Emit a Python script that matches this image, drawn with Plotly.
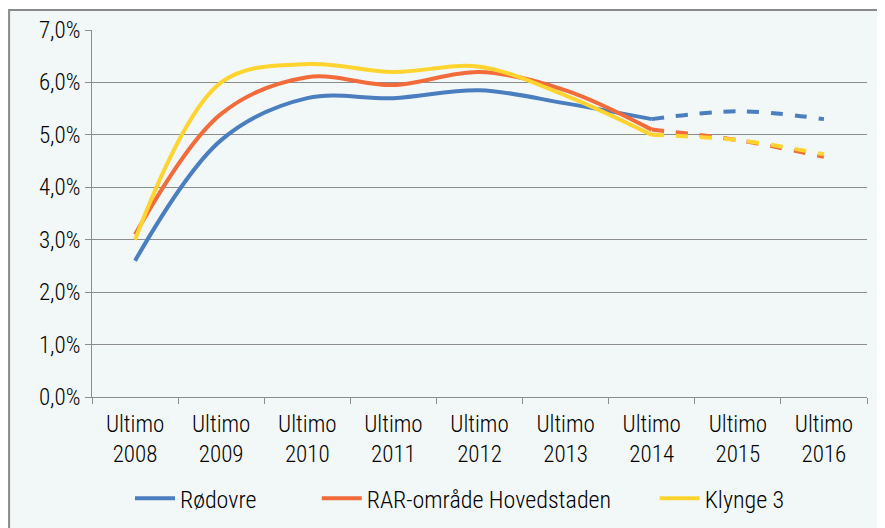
import plotly.graph_objects as go

# === Data ===
YEARS = ["2008", "2009", "2010", "2011", "2012", "2013", "2014", "2015", "2016"]
CATEGORIES = ["Ultimo<br>" + y for y in YEARS]
RODOVRE = [2.6, 4.9, 5.7, 5.7, 5.85, 5.6, 5.3, 5.45, 5.3]
RAR_HOVEDSTADEN = [3.1, 5.4, 6.1, 5.95, 6.2, 5.85, 5.1, 4.9, 4.58]
KLYNGE_3 = [3.0, 6.0, 6.35, 6.2, 6.3, 5.75, 5.0, 4.9, 4.63]
FORECAST_START = 6  # Ultimo 2014 onwards is dashed

SERIES = [
    ("Rødovre", RODOVRE, "#4A7EBF", "legend"),
    ("RAR-område Hovedstaden", RAR_HOVEDSTADEN, "#F26B3A", "legend2"),
    ("Klynge 3", KLYNGE_3, "#FFD42E", "legend3"),
]

FONT = "Roboto Condensed, Liberation Sans Narrow, sans-serif"
GRID = "#8c8c8c"

fig = go.Figure()

for name, values, color, leg in SERIES:
    fig.add_trace(go.Scatter(
        x=CATEGORIES[:FORECAST_START + 1],
        y=values[:FORECAST_START + 1],
        mode="lines",
        name=name,
        legend=leg,
        line=dict(color=color, width=4, shape="spline", smoothing=1.0),
    ))
    fig.add_trace(go.Scatter(
        x=CATEGORIES[FORECAST_START:],
        y=values[FORECAST_START:],
        mode="lines",
        name=name,
        showlegend=False,
        line=dict(color=color, width=4, dash="dash", shape="spline", smoothing=1.0),
    ))

# Chart frame
fig.add_shape(
    type="rect", xref="paper", yref="paper",
    x0=-0.107, x1=1.1, y0=-0.6, y1=1.0545,
    fillcolor="#F2F7F8", line=dict(color="#8a8a8a", width=2),
    layer="below",
)

legend_style = dict(
    orientation="h",
    xanchor="left",
    y=-0.216,
    yanchor="top",
    bgcolor="rgba(0,0,0,0)",
    font=dict(size=24),
    itemwidth=40,
)

fig.update_layout(
    width=877,
    height=520,
    separators=",.",
    paper_bgcolor="white",
    plot_bgcolor="rgba(0,0,0,0)",
    font=dict(family=FONT, size=23, color="#000000", weight=300),
    margin=dict(l=84, r=18, t=22, b=131, autoexpand=False),
    xaxis=dict(
        type="category",
        range=[-0.5, 8.5],
        automargin=False,
        showgrid=False,
        showline=True,
        linecolor=GRID,
        linewidth=1,
        ticks="outside",
        tickson="boundaries",
        ticklen=6,
        tickcolor=GRID,
        ticklabelstandoff=6,
    ),
    yaxis=dict(
        range=[0, 7],
        dtick=1,
        automargin=False,
        tickformat=".1f",
        ticksuffix="%",
        showgrid=True,
        gridcolor=GRID,
        gridwidth=1,
        showline=True,
        linecolor=GRID,
        ticks="outside",
        ticklen=6,
        tickcolor=GRID,
        zeroline=False,
    ),
    legend=dict(legend_style, x=0.049),
    legend2=dict(legend_style, x=0.290),
    legend3=dict(legend_style, x=0.726),
)

fig.write_html("out.html")
